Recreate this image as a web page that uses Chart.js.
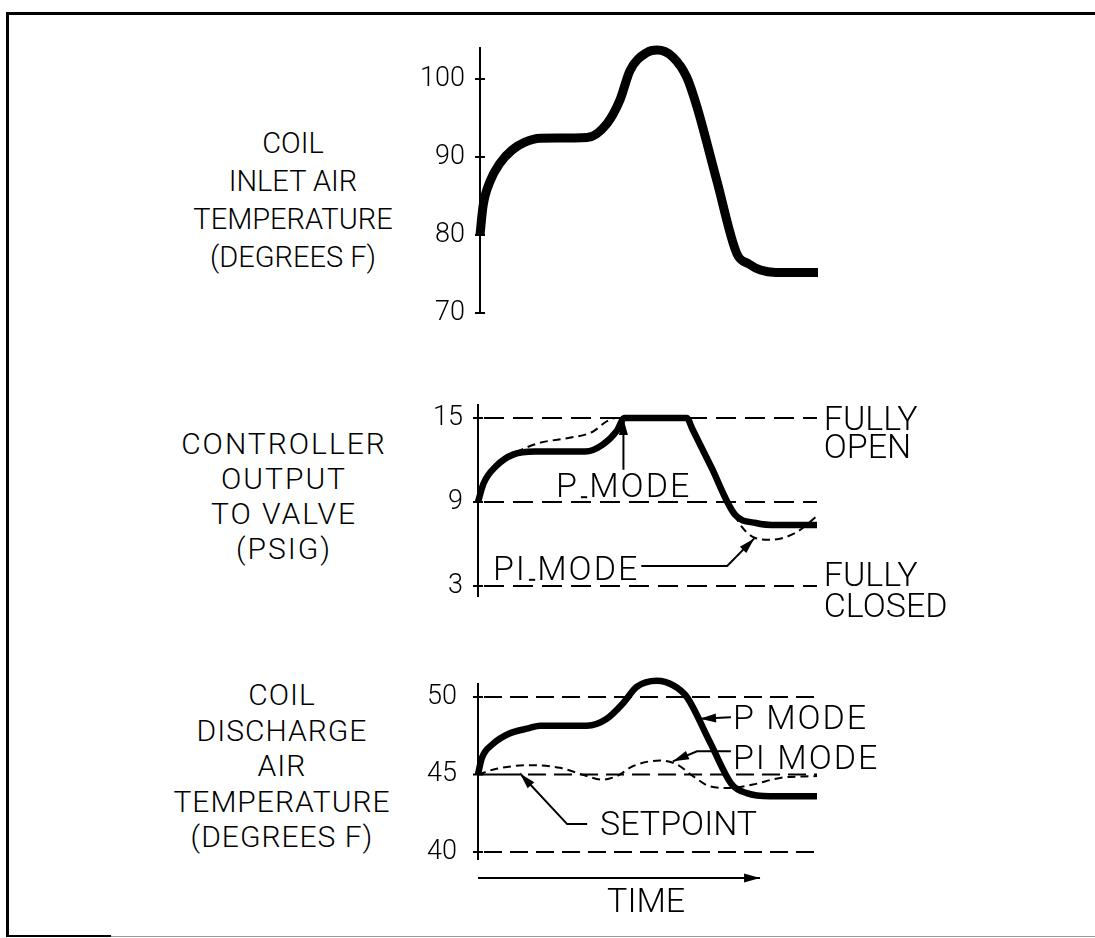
<!DOCTYPE html>
<html>
<head>
<meta charset="utf-8">
<title>Coil temperature response</title>
<script src="https://cdn.jsdelivr.net/npm/chart.js@4.4.1/dist/chart.umd.min.js"></script>
<style>
  html, body { margin: 0; padding: 0; background: #fff; }
  body { width: 1095px; height: 938px; position: relative; overflow: hidden;
         font-family: Roboto, "Liberation Sans", sans-serif; font-weight: 300; color: #000; }
  .rule { position: absolute; background: #000; }
  .caption { position: absolute; width: 320px; text-align: center; white-space: pre; }
  canvas { position: absolute; left: 0; }
</style>
</head>
<body>
<div class="rule" style="left:6px; top:12px; width:1089px; height:3px;"></div>
<div class="rule" style="left:6px; top:12px; width:3px; height:925px;"></div>
<div class="rule" style="left:6px; top:935px; width:105px; height:2px;"></div>
<div class="rule" style="left:111px; top:936px; width:984px; height:1px; background:#999;"></div>

<div class="caption" style="left:133px; top:124px; font-size:29px; line-height:38px;">COIL
INLET AIR
TEMPERATURE
(DEGREES F)</div>
<div class="caption" style="left:124px; top:426px; font-size:30px; line-height:35px; letter-spacing:2px;">CONTROLLER
OUTPUT
TO VALVE
(PSIG)</div>
<div class="caption" style="left:122px; top:677px; font-size:30px; line-height:35.5px; letter-spacing:1px;">COIL
DISCHARGE
AIR
TEMPERATURE
(DEGREES F)</div>

<canvas id="inlet" width="1095" height="340" style="top:0px;"></canvas>
<canvas id="valve" width="1095" height="260" style="top:370px;"></canvas>
<canvas id="discharge" width="1095" height="288" style="top:650px;"></canvas>

<script>
// time runs 0..100 across every panel
const timeInlet = [0, 0.9, 3, 5.9, 9.5, 13.3, 17.8, 31.7, 37.6, 41.4, 44.4, 49.4, 52.4, 57.1, 61.2, 64.2, 70.1, 76, 79.5, 83, 87.5, 100];
const inletTemp = [80, 83.7, 86.9, 89.2, 90.9, 91.9, 92.4, 92.5, 94.3, 97.3, 101.1, 103.4, 103.7, 102.8, 100.2, 96.4, 86.9, 77.6, 76.3, 75.5, 75.2, 75.2];
const inletTicks = [70, 80, 90, 100];

const timeValveP = [0, 1.6, 5.3, 10.5, 16.8, 31.6, 36.8, 41, 43.2, 61.6, 63.2, 68.7, 75.8, 82, 88.4, 100];
const valveP = [9, 10.3, 11.55, 12.4, 12.6, 12.6, 13.1, 14.1, 15, 15, 14.23, 11.55, 8.1, 7.5, 7.35, 7.35];
const timeValvePI = [0, 1.6, 5.3, 10.5, 17.9, 27.4, 33.7, 37.9, 40.5, 61.6, 63.2, 68.7, 74.7, 77.9, 81.6, 86.3, 93.7, 100];
const valvePI = [9, 10.3, 11.55, 12.45, 13.2, 13.6, 14, 14.75, 15, 15, 14.23, 11.55, 8.6, 7.2, 6.45, 6.3, 6.8, 8.0];
const valveTicks = [3, 9, 15];
const valveLimits = [15, 9, 3];

const timeDischargeP = [0, 1.1, 4.3, 9.1, 15.1, 18.3, 32.1, 38, 42.8, 46.8, 52.7, 57.6, 61.6, 68.4, 74.9, 79.3, 86.1, 100];
const dischargeP = [45, 46.04, 46.95, 47.63, 47.99, 48.15, 48.15, 48.6, 49.6, 50.65, 51.05, 50.75, 50, 47.1, 44.35, 43.8, 43.6, 43.6];
const timeDischargePI = [0, 5.5, 15.3, 24.2, 32.1, 36.5, 41, 45.8, 53.7, 58.7, 63.4, 68.4, 74.3, 81.1, 89.1, 100];
const dischargePI = [45, 45.37, 45.6, 45.43, 44.9, 44.67, 44.9, 45.55, 45.9, 45.65, 44.9, 44.24, 44.13, 44.35, 44.78, 44.9];
const dischargeTicks = [40, 45, 50];
const setpoint = 45;

const FONT = 'Roboto';

function points(xs, ys) {
    return xs.map((x, i) => ({ x: x, y: ys[i] }));
}

function curve(xs, ys, width, dash) {
    return {
        data: points(xs, ys),
        borderColor: '#000',
        borderWidth: width,
        borderDash: dash || [],
        borderCapStyle: 'butt',
        borderJoinStyle: 'round',
        pointRadius: 0,
        cubicInterpolationMode: 'monotone',
        clip: false
    };
}

// small drawing helpers for the axis furniture and call-outs
function stroke(ctx, pts, width, dash) {
    ctx.save();
    ctx.strokeStyle = '#000';
    ctx.lineWidth = width;
    ctx.setLineDash(dash || []);
    ctx.beginPath();
    pts.forEach((p, i) => i ? ctx.lineTo(p[0], p[1]) : ctx.moveTo(p[0], p[1]));
    ctx.stroke();
    ctx.restore();
}

function arrowHead(ctx, from, tip, len, half) {
    len = len || 16; half = half || 4.5;
    const a = Math.atan2(tip[1] - from[1], tip[0] - from[0]);
    const bx = tip[0] - len * Math.cos(a), by = tip[1] - len * Math.sin(a);
    ctx.save();
    ctx.fillStyle = '#000';
    ctx.beginPath();
    ctx.moveTo(tip[0], tip[1]);
    ctx.lineTo(bx + half * Math.sin(a), by - half * Math.cos(a));
    ctx.lineTo(bx - half * Math.sin(a), by + half * Math.cos(a));
    ctx.closePath();
    ctx.fill();
    ctx.restore();
}

function arrow(ctx, pts) {
    stroke(ctx, pts, 2);
    arrowHead(ctx, pts[pts.length - 2], pts[pts.length - 1]);
}

// text centred vertically on the cap height; returns right edge and the word gap
function text(ctx, str, x, yMid, size, align, spacing) {
    ctx.save();
    ctx.font = '300 ' + size + 'px ' + FONT;
    ctx.letterSpacing = (spacing || 0) + 'px';
    ctx.fillStyle = '#000';
    ctx.textAlign = align || 'left';
    ctx.textBaseline = 'alphabetic';
    ctx.fillText(str, x, yMid + size * 0.355);
    const w = ctx.measureText(str).width;
    const first = str.split(' ')[0];
    const gap = [ctx.measureText(first).width, ctx.measureText(first + ' ').width];
    ctx.restore();
    return { right: x + w, gap: gap };
}

function axisLine(ctx, p, top, bottom, ticks) {
    stroke(ctx, [[p.x(0), p.y(top)], [p.x(0), p.y(bottom)]], 2);
    ticks.forEach(v => stroke(ctx, [[p.x(0) - 5, p.y(v)], [p.x(0) + 5, p.y(v)]], 2));
}

function overlay(under, over) {
    const scales = chart => ({
        x: v => chart.scales.x.getPixelForValue(v),
        y: v => chart.scales.y.getPixelForValue(v)
    });
    return {
        id: 'overlay',
        beforeDatasetsDraw(chart) { if (under) under(chart.ctx, scales(chart)); },
        afterDatasetsDraw(chart) { if (over) over(chart.ctx, scales(chart)); }
    };
}

function panel(id, cfg) {
    return new Chart(document.getElementById(id), {
        type: 'line',
        data: { datasets: cfg.datasets },
        options: {
            responsive: false,
            animation: false,
            events: [],
            layout: { padding: cfg.padding },
            plugins: { legend: { display: false }, tooltip: { enabled: false } },
            scales: {
                x: { type: 'linear', min: 0, max: 100, display: false },
                y: {
                    type: 'linear',
                    min: cfg.yMin,
                    max: cfg.yMax,
                    grid: { display: false },
                    border: { display: false },
                    afterBuildTicks: axis => { axis.ticks = cfg.ticks.map(v => ({ value: v })); },
                    afterFit: axis => { axis.width = 60; },
                    ticks: {
                        color: '#000',
                        padding: cfg.tickPad,
                        font: { family: FONT, size: 27, weight: '300' }
                    }
                }
            }
        },
        plugins: [overlay(cfg.under, cfg.over)]
    });
}

// Coil inlet air temperature
panel('inlet', {
    datasets: [curve(timeInlet, inletTemp, 9)],
    yMin: 70, yMax: 104.1,
    ticks: inletTicks,
    tickPad: 7,
    padding: { left: 420, right: 277, top: 47, bottom: 27 },
    under: (ctx, p) => axisLine(ctx, p, 104.1, 70, inletTicks)
});

// Controller output to valve
panel('valve', {
    datasets: [curve(timeValvePI, valvePI, 2, [8, 5]), curve(timeValveP, valveP, 6.5)],
    yMin: 2.214, yMax: 16,
    ticks: valveTicks,
    tickPad: 7,
    padding: { left: 418, right: 278, top: 34, bottom: 33 },
    under: (ctx, p) => {
        axisLine(ctx, p, 16, 2.214, valveTicks);
        valveLimits.forEach(v => stroke(ctx, [[p.x(0) + 6, p.y(v)], [p.x(100), p.y(v)]], 2, [20, 9]));
    },
    over: (ctx, p) => {
        text(ctx, 'FULLY', p.x(102), p.y(15), 34);
        text(ctx, 'OPEN', p.x(102), p.y(15) + 28, 34);
        text(ctx, 'FULLY', p.x(102), p.y(3) - 12, 34);
        text(ctx, 'CLOSED', p.x(102), p.y(3) + 19, 34);

        const pm = text(ctx, 'P MODE', p.x(23), p.y(10.2), 34, 'left', 2);
        stroke(ctx, [[p.x(23) + pm.gap[0] + 2, p.y(10.2) + 12], [p.x(23) + pm.gap[1] - 2, p.y(10.2) + 12]], 2);
        arrow(ctx, [[p.x(42.9), p.y(11.3)], [p.x(42.9), p.y(15) + 1]]);

        const pi = text(ctx, 'PI MODE', p.x(4.4), p.y(4.3), 34, 'left', 2);
        stroke(ctx, [[p.x(4.4) + pi.gap[0] + 2, p.y(4.3) + 12], [p.x(4.4) + pi.gap[1] - 2, p.y(4.3) + 12]], 2);
        arrow(ctx, [[pi.right + 2, p.y(4.43)], [p.x(73.5), p.y(4.43)], [p.x(81.5), p.y(6.4)]]);
    }
});

// Coil discharge air temperature
panel('discharge', {
    datasets: [curve(timeDischargePI, dischargePI, 2, [8, 5]), curve(timeDischargeP, dischargeP, 6.5)],
    yMin: 39.484, yMax: 50.903,
    ticks: dischargeTicks,
    tickPad: 13,
    padding: { left: 418, right: 278, top: 33, bottom: 78 },
    under: (ctx, p) => {
        axisLine(ctx, p, 50.903, 39.484, dischargeTicks);
        [50, 40].forEach(v => stroke(ctx, [[p.x(0) + 6, p.y(v)], [p.x(100), p.y(v)]], 2, [18, 8]));
        stroke(ctx, [[p.x(0), p.y(setpoint)], [p.x(12.4), p.y(setpoint)]], 2);
        stroke(ctx, [[p.x(12.4) + 8, p.y(setpoint)], [p.x(100), p.y(setpoint)]], 2, [18, 8]);
    },
    over: (ctx, p) => {
        text(ctx, 'P MODE', p.x(75.2), p.y(48.7), 34, 'left', 2);
        arrow(ctx, [[p.x(74.6), p.y(48.7)], [p.x(65.5), p.y(48.6)]]);

        text(ctx, 'PI MODE', p.x(75.2), p.y(46.16), 34, 'left', 2);
        arrow(ctx, [[p.x(74.6), p.y(46.5)], [p.x(64.6), p.y(46.5)], [p.x(57.5), p.y(45.85)]]);

        text(ctx, 'SETPOINT', p.x(36), p.y(41.87), 34);
        arrow(ctx, [[p.x(32.2), p.y(41.8)], [p.x(26.3), p.y(41.8)], [p.x(12.4), p.y(setpoint) - 1]]);

        // time axis arrow below the panel
        arrow(ctx, [[p.x(0), p.y(38.32)], [p.x(83.2), p.y(38.32)]]);
        text(ctx, 'TIME', p.x(49.6), p.y(36.9), 34, 'center');
    }
});
</script>
</body>
</html>
